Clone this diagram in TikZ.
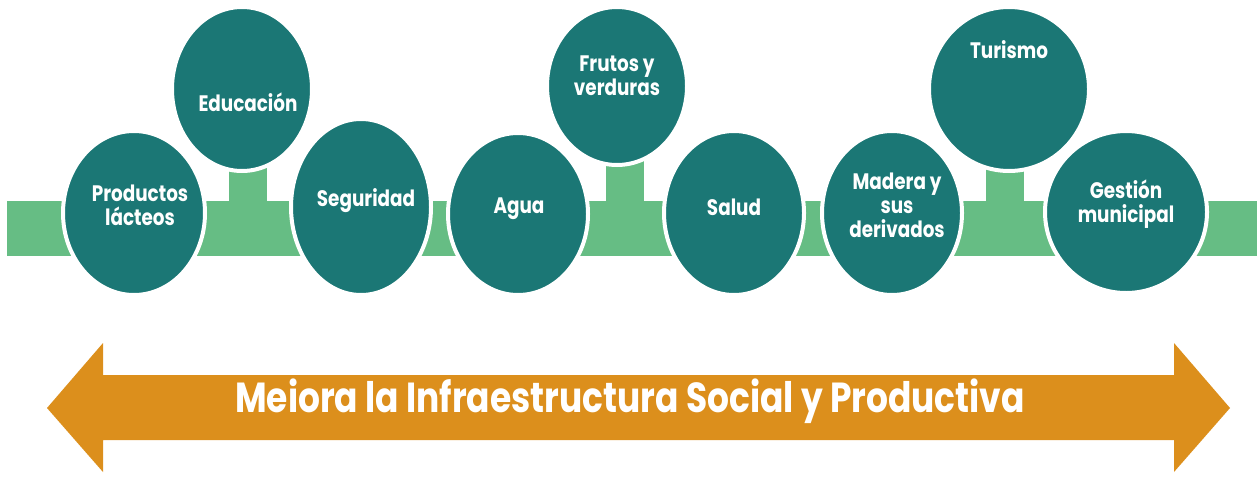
\documentclass[tikz,border=0pt]{standalone}
\usepackage{fontspec}
\setmainfont{Poppins}
\newfontfamily\narrowfont[FakeStretch=0.82]{Poppins}
\usetikzlibrary{shapes.geometric}
\definecolor{circlefill}{HTML}{1B7775}
\definecolor{bandgreen}{HTML}{66BD84}
\definecolor{arroworange}{HTML}{DC8F1C}
\tikzset{
  bubble/.style={ellipse, fill=circlefill, draw=white, line width=2pt, inner sep=0pt},
  bubbletext/.style={text=white, font=\narrowfont\bfseries\fontsize{11.2}{12}\selectfont, align=center, inner sep=0pt},
}
\begin{document}
\begin{tikzpicture}[x=0.5pt, y=-0.5pt]
  \useasboundingbox (0,0) rectangle (1257,477);
  % Band
  \fill[bandgreen] (7,201) rectangle (1257,256);
  \fill[bandgreen] (229,160) rectangle (267,201);
  \fill[bandgreen] (606,150) rectangle (644,201);
  \fill[bandgreen] (986,160) rectangle (1024,201);
  % Nodes
  \node (productos) [bubble, minimum width=71pt, minimum height=82pt] at (134,213) {};
  \node (educacion) [bubble, minimum width=70pt, minimum height=82pt] at (242,89) {};
  \node (seguridad) [bubble, minimum width=70pt, minimum height=88pt] at (361,207) {};
  \node (agua) [bubble, minimum width=70pt, minimum height=81pt] at (518,214) {};
  \node (frutos) [bubble, minimum width=70pt, minimum height=79pt] at (617,86) {};
  \node (salud) [bubble, minimum width=70pt, minimum height=82pt] at (734,213) {};
  \node (madera) [bubble, minimum width=70pt, minimum height=82pt] at (892,213) {};
  \node (turismo) [bubble, minimum width=80pt, minimum height=82pt] at (1009,89) {};
  \node (gestion) [bubble, minimum width=81pt, minimum height=81pt] at (1126,212) {};
  % Labels
  \node (productos-text) [bubbletext] at (140,205) {Productos\\lácteos};
  \node (educacion-text) [bubbletext] at (248,102) {Educación};
  \node (seguridad-text) [bubbletext] at (366,201) {Seguridad};
  \node (agua-text) [bubbletext] at (519,209) {Agua};
  \node (frutos-text) [bubbletext] at (617,76) {Frutos y\\verduras};
  \node (salud-text) [bubbletext] at (734,207) {Salud};
  \node (madera-text) [bubbletext] at (897,205) {Madera y\\sus\\derivados};
  \node (turismo-text) [bubbletext] at (1009,50) {Turismo};
  \node (gestion-text) [bubbletext] at (1126,204) {Gestión\\municipal};
  % Arrow
  \fill[arroworange] (47,408) -- (103,343) -- (103,375) -- (1174,375) -- (1174,343)
    -- (1230,408) -- (1174,472) -- (1174,440) -- (103,440) -- (103,472) -- cycle;
  \node (meiora) [text=white, font=\narrowfont\bfseries\fontsize{21}{24}\selectfont] at (630,401) {Meiora la Infraestructura Social y Productiva};
\end{tikzpicture}
\end{document}
